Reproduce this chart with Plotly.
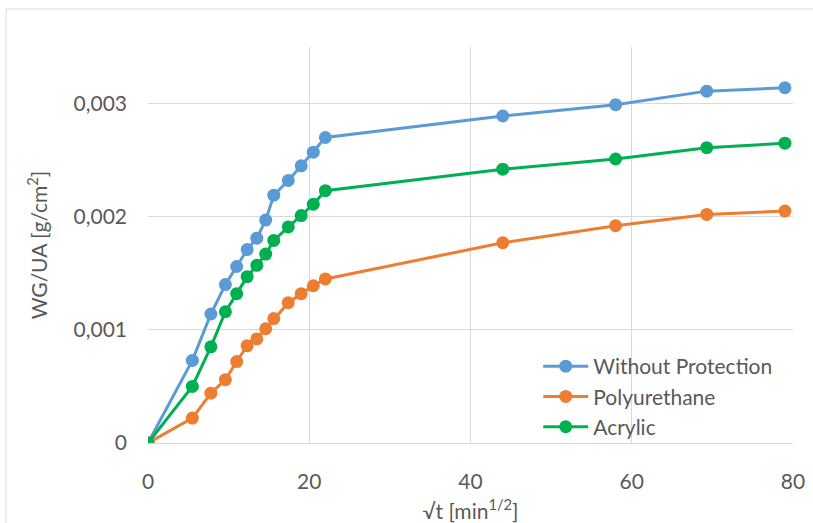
import plotly.graph_objects as go

sqrt_t = [0, 5.5, 7.8, 9.6, 11.0, 12.3, 13.5, 14.6, 15.6, 17.4, 19.0, 20.5, 22.0, 44.0, 58.0, 69.3, 79.0]
without_protection = [0, 0.00073, 0.00114, 0.00140, 0.00156, 0.00171, 0.00181, 0.00197, 0.00219, 0.00232, 0.00245,
                      0.00257, 0.00270, 0.00289, 0.00299, 0.00311, 0.00314]
polyurethane = [0, 0.00022, 0.00044, 0.00056, 0.00072, 0.00086, 0.00092, 0.00101, 0.00110, 0.00124, 0.00132,
                0.00139, 0.00145, 0.00177, 0.00192, 0.00202, 0.00205]
acrylic = [0, 0.00050, 0.00085, 0.00116, 0.00132, 0.00147, 0.00157, 0.00167, 0.00179, 0.00191, 0.00201,
           0.00211, 0.00223, 0.00242, 0.00251, 0.00261, 0.00265]

series_names = ["Without Protection", "Polyurethane", "Acrylic"]
series_colors = ["#5B9BD5", "#ED7D31", "#00B050"]
y_tickvals = [0, 0.001, 0.002, 0.003]
y_ticktext = ["0", "0,001", "0,002", "0,003"]
x_tickvals = [0, 20, 40, 60, 80]

FONT = "Lato"
TXT = "#595959"
SZ = 21

fig = go.Figure()
for name, vals, col in zip(series_names, [without_protection, polyurethane, acrylic], series_colors):
    fig.add_trace(go.Scatter(
        x=sqrt_t, y=vals, name=name, mode="lines+markers",
        line=dict(color=col, width=3),
        marker=dict(color=col, size=13),
    ))

fig.update_layout(
    width=813, height=523,
    margin=dict(l=148, r=20, t=47, b=80, autoexpand=False),
    paper_bgcolor="white", plot_bgcolor="white",
    font=dict(family=FONT, color=TXT, size=SZ),
    showlegend=True,
    legend=dict(x=0.605, y=0.245, xanchor="left", yanchor="top",
                bgcolor="rgba(0,0,0,0)", font=dict(size=SZ, color=TXT),
                tracegroupgap=0, itemwidth=45),
    xaxis=dict(range=[0, 80], tickvals=x_tickvals, showgrid=True, gridcolor="#D9D9D9", gridwidth=1,
               zeroline=False, showline=False, ticks="", ticklabelstandoff=24, automargin=False,
               tickfont=dict(size=SZ, color=TXT),
               title=dict(text="√t [min<sup>1/2</sup>]", font=dict(size=SZ, color=TXT), standoff=20)),
    yaxis=dict(range=[0, 0.0035], tickvals=y_tickvals, ticktext=y_ticktext, showgrid=True,
               gridcolor="#D9D9D9", gridwidth=1, zeroline=True, zerolinecolor="#D9D9D9", zerolinewidth=1,
               showline=False, ticks="", ticklabelstandoff=20, automargin=False,
               tickfont=dict(size=SZ, color=TXT),
               title=dict(text="WG/UA [g/cm<sup>2</sup>]", font=dict(size=SZ, color=TXT), standoff=20)),
)

fig.add_shape(type="rect", xref="paper", yref="paper",
              x0=-142/645, x1=700/645, y0=-0.3, y1=(443 - 9) / 396,
              line=dict(color="#D9D9D9", width=1), fillcolor="rgba(0,0,0,0)", layer="below")

fig.write_html("out.html")
